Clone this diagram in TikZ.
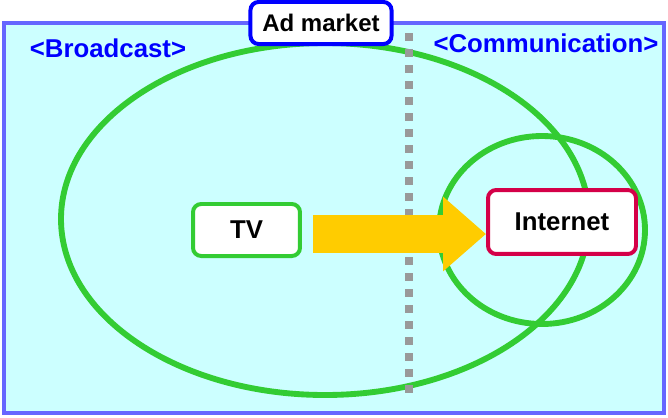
\documentclass[tikz,border=0pt]{standalone}
\usepackage{fontspec}
\setmainfont{Liberation Sans}
\usetikzlibrary{arrows.meta}
\definecolor{panelblue}{RGB}{102,102,255}
\definecolor{panelfill}{RGB}{204,255,255}
\definecolor{ringgreen}{RGB}{51,204,51}
\definecolor{netred}{RGB}{212,0,72}
\definecolor{flowgold}{RGB}{255,204,0}
\definecolor{dotgray}{RGB}{153,153,153}
\tikzset{
  box/.style={draw, line width=3.4pt, rounded corners=7pt, fill=white, inner sep=0pt,
    font=\bfseries\fontsize{22}{24}\selectfont},
  ring/.style={draw=ringgreen, line width=5pt},
  side/.style={text=blue, font=\bfseries\fontsize{22}{24}\selectfont},
  flow/.style={draw=flowgold, line width=31.6pt, -{Triangle[length=36.7pt,width=61.5pt]}},
}
\begin{document}
\begin{tikzpicture}[x=0.03cm,y=-0.03cm]
      \useasboundingbox (0,0) rectangle (668,418);
      \draw[panelblue, fill=panelfill, line width=3.4pt] (4,23) rectangle (664,413);
      \draw[ring] (325,219) ellipse [x radius=264, y radius=176];
      \draw[ring] (542,230) ellipse [x radius=103, y radius=94];
      \coordinate (split top) at (409,33);
      \coordinate (split bottom) at (409,393);
      \draw[dotgray, line width=6pt, dash pattern=on 6.83pt off 6.83pt] (split top) -- (split bottom);
      \draw
        (108,48) node[side] (broadcast){<Broadcast>}
        (546,43) node[side] (communication){<Communication>};
      \node[box, draw=blue, minimum width=120.4pt, minimum height=35.9pt,
        font=\bfseries\fontsize{20.5}{22}\selectfont] (market) at (321,23) {Ad market};
      \node[box, draw=ringgreen, minimum width=91.3pt, minimum height=44.4pt] (tv) at (246.5,230) {TV};
      \node[box, draw=netred, minimum width=126.3pt, minimum height=54.6pt] (internet) at (562,222) {Internet};
      \draw[flow] ([shift={(11,4)}]tv.east) -- ([shift={(0,4)}]tv.east -| internet.west);
    \end{tikzpicture}
\end{document}
